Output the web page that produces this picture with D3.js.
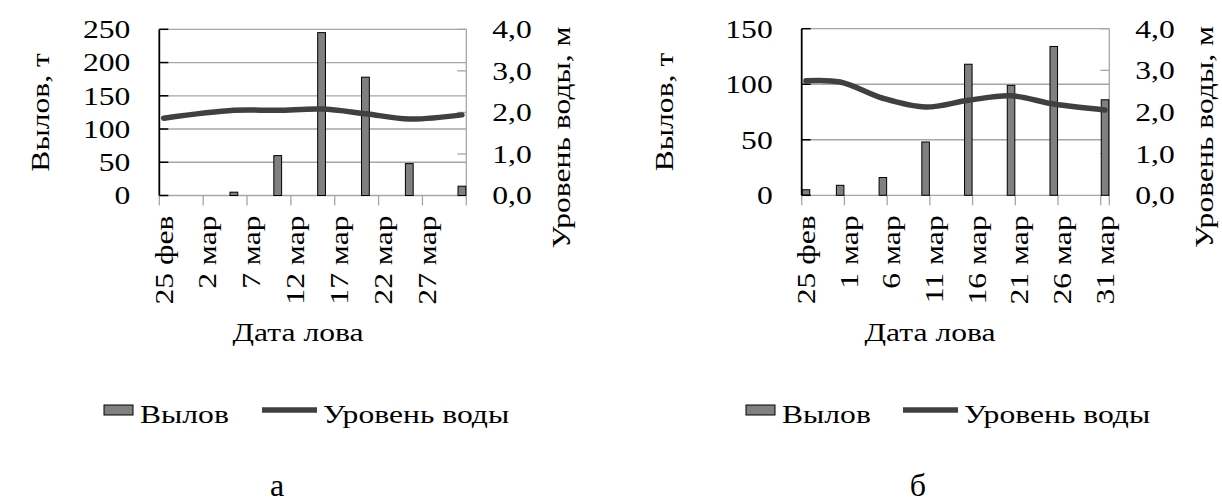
<!DOCTYPE html>
<html><head><meta charset="utf-8">
<script src="https://cdn.jsdelivr.net/npm/d3@7"></script>
<style>html,body{margin:0;padding:0;background:#fff;} svg{display:block;}</style>
</head><body>
<svg id="chart" width="1222" height="502"></svg>
<script>
// ---------------- data ----------------
const datesA = ["2023-02-25","2023-03-05","2023-03-10","2023-03-15","2023-03-20","2023-03-25","2023-03-31"];
const catchA = [null, 5, 60, 245, 178, 48, 14];
const levelA = [1.86, 2.05, 2.05, 2.08, 1.97, 1.84, 1.94];
const tickLabelsA = ["25 фев","2 мар","7 мар","12 мар","17 мар","22 мар","27 мар"];
const catchTicksA = [0, 50, 100, 150, 200, 250];

const datesB = ["2024-02-25","2024-02-29","2024-03-05","2024-03-10","2024-03-15","2024-03-20","2024-03-25","2024-03-31"];
const catchB = [5, 9, 16, 48, 118, 99, 134, 86];
const levelB = [2.75, 2.72, 2.33, 2.12, 2.28, 2.39, 2.19, 2.05];
const tickLabelsB = ["25 фев","1 мар","6 мар","11 мар","16 мар","21 мар","26 мар","31 мар"];
const catchTicksB = [0, 50, 100, 150];

const levelTicks = [0, 1, 2, 3, 4];
const seriesNames = ["Вылов", "Уровень воды"];
const axisTitles = ["Вылов, т", "Уровень воды, м", "Дата лова"];
const panelLabels = ["а", "б"];

// ---------------- styling / layout ----------------
const FONT = "'Liberation Serif','Times New Roman',serif";
const FS = 25.5, SX = 1.24;
const GRID = "#a6a6a6", BAR = "#808080", LINE = "#404040";

const svg = d3.select("#chart");
const parse = d3.timeParse("%Y-%m-%d");
const fmtNum = d3.format(".1f");

function txt(g, s, x, y, o = {}) {
  return g.append("text")
    .attr("transform", `translate(${x},${y}) rotate(${o.rot || 0}) scale(${o.sx ?? SX},1)`)
    .attr("text-anchor", o.anchor || "start")
    .attr("dominant-baseline", o.base || "auto")
    .attr("font-family", FONT)
    .attr("font-size", o.size || FS)
    .attr("fill", "#000")
    .text(s);
}

function panel(cfg) {
  const g = svg.append("g");
  const dates = cfg.dates.map(parse);
  const days = d3.timeDay.range(dates[0], d3.timeDay.offset(dates[dates.length - 1], 1));
  const x = d3.scaleBand().domain(days.map(d => +d)).range([cfg.x0, cfg.x1]).padding(0);
  const bw = x.bandwidth();
  const yL = d3.scaleLinear().domain([0, d3.max(cfg.catchTicks)]).range([cfg.yBot, cfg.yTop]);
  const yR = d3.scaleLinear().domain([0, d3.max(levelTicks)]).range([cfg.yBot, cfg.yTop]);

  // gridlines
  g.selectAll(".grid").data(cfg.catchTicks).join("line")
    .attr("x1", cfg.x0).attr("x2", cfg.x1)
    .attr("y1", d => yL(d)).attr("y2", d => yL(d))
    .attr("stroke", GRID).attr("stroke-width", 1.3);

  // right axis (gray) + inside ticks
  g.append("line").attr("x1", cfg.x1).attr("x2", cfg.x1).attr("y1", cfg.yTop).attr("y2", cfg.yBot)
    .attr("stroke", GRID).attr("stroke-width", 1.3);
  g.selectAll(".rt").data(levelTicks).join("line")
    .attr("x1", cfg.x1 - 9).attr("x2", cfg.x1)
    .attr("y1", d => yR(d)).attr("y2", d => yR(d))
    .attr("stroke", GRID).attr("stroke-width", 1.3);

  // bottom axis ticks
  const tickIdx = d3.range(0, days.length, 5);
  const tickX = tickIdx.map(i => x(+days[i])).concat([cfg.x1]);
  g.selectAll(".bt").data(tickX).join("line")
    .attr("x1", d => d).attr("x2", d => d)
    .attr("y1", cfg.yBot).attr("y2", cfg.yBot + 10)
    .attr("stroke", GRID).attr("stroke-width", 1.3);

  // bars
  const barData = dates.map((d, i) => ({ d, v: cfg.catch[i] })).filter(e => e.v != null);
  g.selectAll(".bar").data(barData).join("rect")
    .attr("x", e => x(+e.d) + 0.5).attr("width", bw - 1)
    .attr("y", e => yL(e.v)).attr("height", e => cfg.yBot - yL(e.v))
    .attr("fill", BAR).attr("stroke", "#000").attr("stroke-width", 1);

  // left axis (black) + inside ticks
  g.append("line").attr("x1", cfg.x0).attr("x2", cfg.x0).attr("y1", cfg.yTop).attr("y2", cfg.yBot)
    .attr("stroke", "#000").attr("stroke-width", 1.8);
  g.selectAll(".lt").data(cfg.catchTicks).join("line")
    .attr("x1", cfg.x0).attr("x2", cfg.x0 + 9)
    .attr("y1", d => yL(d)).attr("y2", d => yL(d))
    .attr("stroke", "#000").attr("stroke-width", 1.5);

  // level line
  const line = d3.line()
    .x((d, i) => x(+dates[i]) + bw / 2)
    .y(d => yR(d))
    .curve(d3.curveCatmullRom.alpha(0.5));
  g.append("path").attr("d", line(cfg.level))
    .attr("fill", "none").attr("stroke", LINE).attr("stroke-width", 5.5).attr("stroke-linecap", "round");

  // tick labels
  cfg.catchTicks.forEach(v => txt(g, v, cfg.x0 - 29, yL(v), { anchor: "end", base: "central" }));
  levelTicks.forEach(v => txt(g, fmtNum(v).replace(".", ","), cfg.x1 + 26, yR(v), { base: "central" }));
  tickIdx.forEach((di, k) => txt(g, cfg.tickLabels[k], x(+days[di]) + bw / 2, cfg.yBot + 20,
    { rot: -90, anchor: "end", base: "central" }));

  // axis titles
  txt(g, axisTitles[0], cfg.titleLX, (cfg.yTop + cfg.yBot) / 2, { rot: -90, anchor: "middle", base: "central" });
  txt(g, axisTitles[1], cfg.x1 + 95, (cfg.yTop + cfg.yBot) / 2 + 25, { rot: -90, anchor: "middle", base: "central" });
  txt(g, axisTitles[2], cfg.titleXX, 341, { anchor: "middle" });

  // legend
  const L = cfg.legend;
  g.append("rect").attr("x", L.rx).attr("y", 405).attr("width", 29).attr("height", 10)
    .attr("fill", BAR).attr("stroke", "#000").attr("stroke-width", 1);
  txt(g, seriesNames[0], L.rx + 36, 423);
  g.append("line").attr("x1", L.lx).attr("x2", L.lx + 55).attr("y1", 410).attr("y2", 410)
    .attr("stroke", LINE).attr("stroke-width", 5.5);
  txt(g, seriesNames[1], L.lx + 61, 423);

  // panel label
  txt(g, cfg.label, cfg.labelX, 496, { anchor: "middle", size: 32, sx: 1.0 });
}

panel({ dates: datesA, catch: catchA, level: levelA, tickLabels: tickLabelsA, catchTicks: catchTicksA,
  x0: 159.3, x1: 466.3, yTop: 29.3, yBot: 195.5, titleLX: 40, titleXX: 298,
  legend: { rx: 104, lx: 262 }, label: panelLabels[0], labelX: 277 });
panel({ dates: datesB, catch: catchB, level: levelB, tickLabels: tickLabelsB, catchTicks: catchTicksB,
  x0: 801.7, x1: 1109.3, yTop: 28.7, yBot: 195.3, titleLX: 664, titleXX: 930,
  legend: { rx: 746, lx: 903 }, label: panelLabels[1], labelX: 918 });
</script>
</body></html>
